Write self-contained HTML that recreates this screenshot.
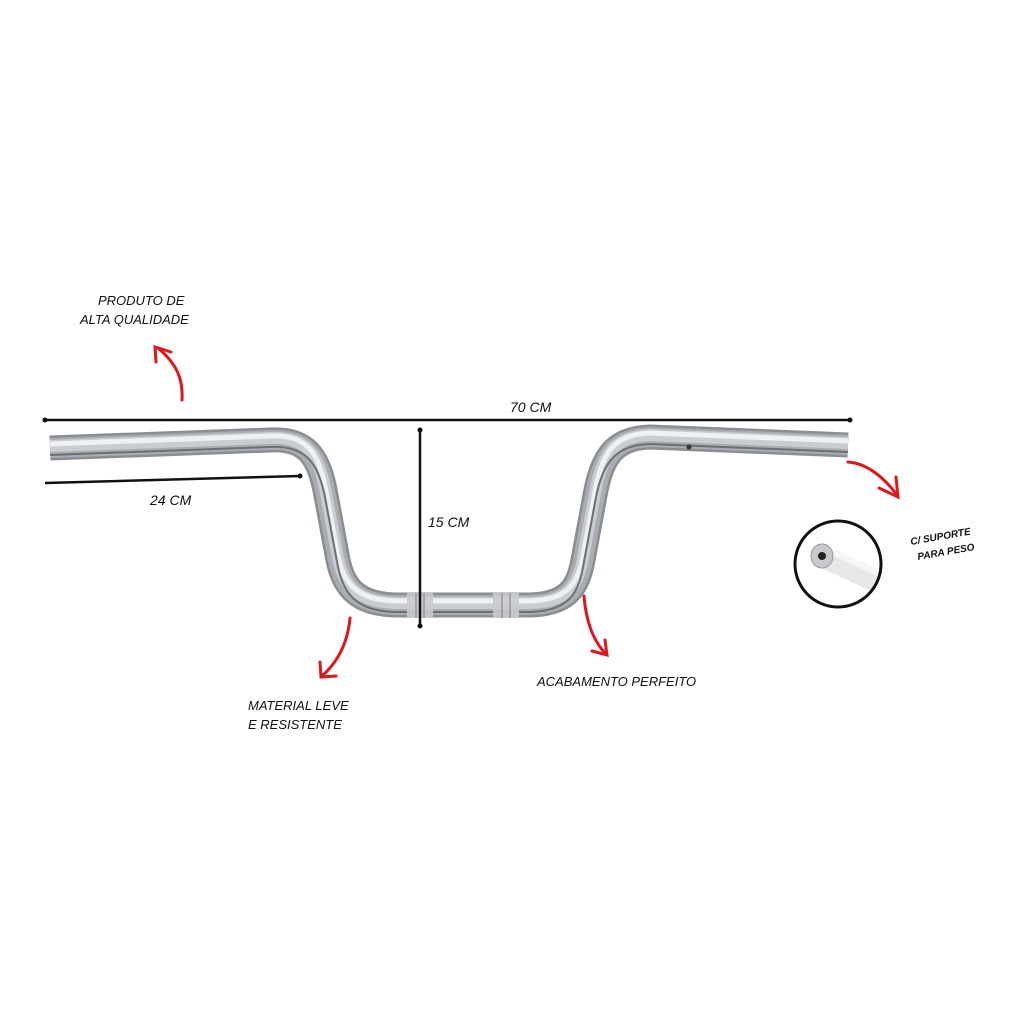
<!DOCTYPE html>
<html><head><meta charset="utf-8"><style>
body{margin:0;background:#fff;width:1024px;height:1024px;overflow:hidden}
text{font-family:"Liberation Sans",sans-serif;font-style:italic;fill:#111}
</style></head><body>
<svg width="1024" height="1024" viewBox="0 0 1024 1024" xmlns="http://www.w3.org/2000/svg">
<defs>
<path id="bar" d="M50 448 L270 440 C305 438 318 455 325 490 L338 560 C344 590 360 604 395 605 L530 605 C565 604 578 590 583 560 L596 490 C603 455 616 438 650 437 L848 445"/>
<clipPath id="cc"><circle cx="838" cy="564" r="42"/></clipPath>
</defs>
<g fill="none" stroke-linecap="butt" stroke-linejoin="round">
<use href="#bar" stroke="#8a8d92" stroke-width="25"/>
<use href="#bar" stroke="#a9acb1" stroke-width="20"/>
<use href="#bar" stroke="#c9ccd0" stroke-width="12" transform="translate(0,-2)"/>
<use href="#bar" stroke="#eef0f2" stroke-width="5" transform="translate(0,-4)"/>
<use href="#bar" stroke="#6c6f75" stroke-width="2" transform="translate(0,7)"/>
</g>
<g fill="#c9cbce" opacity="0.9">
<rect x="407" y="593" width="26" height="25"/><rect x="493" y="593" width="26" height="25"/>
</g>
<g stroke="#8a8d92" stroke-width="1.2">
<line x1="416" y1="593" x2="416" y2="618"/><line x1="424" y1="593" x2="424" y2="618"/>
<line x1="502" y1="593" x2="502" y2="618"/><line x1="510" y1="593" x2="510" y2="618"/>
</g>
<circle cx="689" cy="447" r="2.5" fill="#333"/>
<g stroke="#111" stroke-width="2.5">
<line x1="45" y1="420" x2="850" y2="420"/>
<line x1="45" y1="483" x2="300" y2="476"/>
<line x1="420" y1="430" x2="420" y2="626"/>
</g>
<g fill="#111"><circle cx="45" cy="420" r="2.5"/><circle cx="850" cy="420" r="2.5"/><circle cx="300" cy="476" r="2.5"/><circle cx="420" cy="430" r="2.5"/><circle cx="420" cy="626" r="2.5"/></g>
<text x="510" y="412" font-size="14">70  CM</text>
<text x="150" y="505" font-size="14">24  CM</text>
<text x="428" y="527" font-size="14">15  CM</text>
<text x="98" y="305" font-size="13">PRODUTO DE</text>
<text x="80" y="324" font-size="13">ALTA QUALIDADE</text>
<text x="248" y="710" font-size="13">MATERIAL LEVE</text>
<text x="248" y="729" font-size="13">E RESISTENTE</text>
<text x="537" y="686" font-size="13">ACABAMENTO PERFEITO</text>
<g fill="none" stroke="#e0161b" stroke-width="3" stroke-linecap="round">
<path d="M182 400 C183 380 178 365 158 348"/><path d="M156 362 L155 347 L171 352"/>
<path d="M350 618 C348 640 340 660 322 676"/><path d="M320 662 L321 677 L336 676"/>
<path d="M584 596 C586 620 592 640 606 654"/><path d="M592 651 L607 655 L605 640"/>
<path d="M848 462 C865 463 882 475 897 495"/><path d="M896 477 L898 497 L879 488"/>
</g>
<circle cx="838" cy="564" r="43" fill="#fff"/>
<g clip-path="url(#cc)">
<g transform="translate(822,556) rotate(25)">
<rect x="0" y="-11" width="80" height="22" fill="#e6e7e9"/>
<rect x="0" y="-11" width="80" height="6" fill="#f6f6f7"/>
</g>
</g>
<circle cx="838" cy="564" r="43" fill="none" stroke="#111" stroke-width="3"/>
<ellipse cx="822" cy="556" rx="11" ry="12" fill="#c8c9cc" stroke="#999" stroke-width="1"/>
<circle cx="822" cy="556" r="4" fill="#222"/>
<text x="0" y="0" font-size="10" font-weight="bold" font-style="normal" transform="translate(911,545) rotate(-10)">C/ SUPORTE</text>
<text x="0" y="0" font-size="10" font-weight="bold" font-style="normal" transform="translate(918,560) rotate(-10)">PARA PESO</text>
</svg>
</body></html>
